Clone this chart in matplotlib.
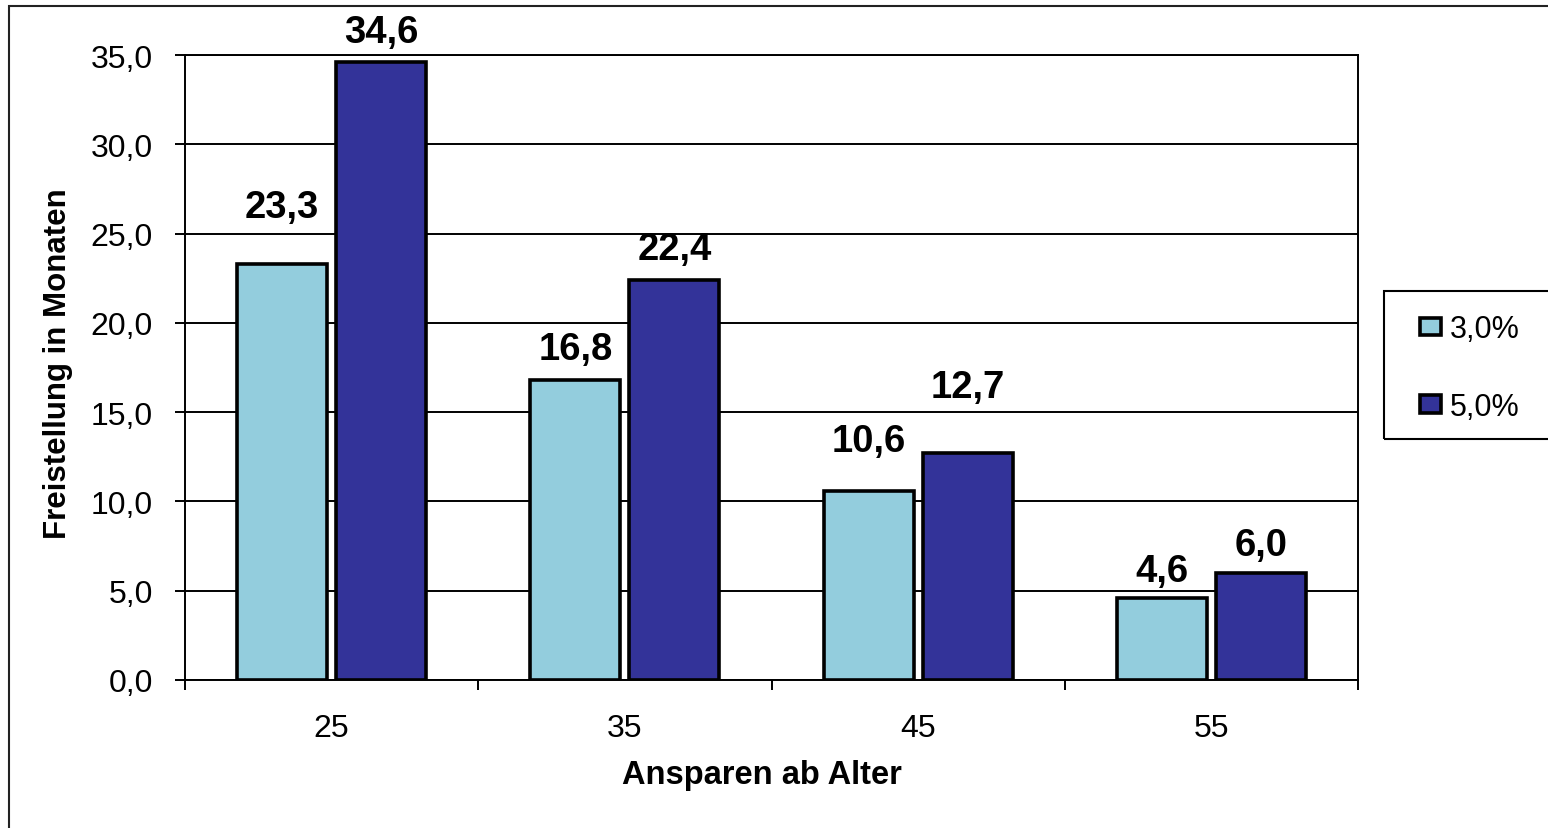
import numpy as np
import matplotlib
matplotlib.use("Agg")
import matplotlib.pyplot as plt
from matplotlib.patches import Rectangle
from matplotlib.ticker import FuncFormatter, FixedLocator

plt.rcParams['font.family'] = ['Liberation Sans', 'DejaVu Sans']

# ---- data ----
categories = ["25", "35", "45", "55"]
series_names = ["3,0%", "5,0%"]
values_3 = [23.3, 16.8, 10.6, 4.6]
values_5 = [34.6, 22.4, 12.7, 6.0]
y_ticks = [0, 5, 10, 15, 20, 25, 30, 35]
x_title = "Ansparen ab Alter"
y_title = "Freistellung in Monaten"

# ---- layout / style (not data) ----
label_offsets_3 = [57, 31, 50, 27]   # pixels above bar top
label_offsets_5 = [30, 31, 66, 28]
color_3 = "#93CDDD"
color_5 = "#333399"

W, H = 1548, 829
fig = plt.figure(figsize=(W / 100, H / 100), dpi=100)
fig.patch.set_facecolor("white")

# outer chart frame (runs off right/bottom edges)
fig.add_artist(Rectangle((9 / W, -0.05), 1.2, 1 - 7 / H + 0.05,
                         transform=fig.transFigure, fill=False,
                         edgecolor="#222222", linewidth=1.5))

ax = fig.add_axes([185 / W, 1 - 681 / H, (1358 - 185) / W, (681 - 56) / H])

x = np.arange(len(categories))
off = 0.169
bw = 0.307
b1 = ax.bar(x - off, values_3, bw, color=color_3, edgecolor="black",
            linewidth=2.6, zorder=3, label=series_names[0])
b2 = ax.bar(x + off, values_5, bw, color=color_5, edgecolor="black",
            linewidth=2.6, zorder=3, label=series_names[1])

ax.set_xlim(-0.5, len(categories) - 0.5)
ax.set_ylim(0, 35)
ax.set_yticks(y_ticks)
ax.yaxis.set_major_formatter(FuncFormatter(lambda v, p: f"{v:.1f}".replace(".", ",")))
ax.yaxis.grid(True, color="black", linewidth=1.4)
ax.set_axisbelow(True)

ax.set_xticks(x)
ax.set_xticklabels(categories)
ax.xaxis.set_minor_locator(FixedLocator(np.arange(-0.5, len(categories), 1.0)))
ax.tick_params(axis="x", which="major", length=0, pad=24, labelsize=23)
ax.tick_params(axis="x", which="minor", length=7, width=1.4, direction="out")
ax.tick_params(axis="y", which="major", length=7, width=1.4, direction="out",
               pad=16, labelsize=23)

for s in ["left", "bottom", "right", "top"]:
    ax.spines[s].set_color("black")
    ax.spines[s].set_linewidth(1.4)

for bars, vals, offs in [(b1, values_3, label_offsets_3), (b2, values_5, label_offsets_5)]:
    for rect, v, o in zip(bars, vals, offs):
        ax.annotate(f"{v:.1f}".replace(".", ","),
                    xy=(rect.get_x() + rect.get_width() / 2, v),
                    xytext=(0, o), textcoords="offset pixels",
                    ha="center", va="center", fontsize=27.5, fontweight="bold")

fig.text(762 / W, 1 - 776 / H, x_title, ha="center", va="center",
         fontsize=23.5, fontweight="bold")
fig.text(58 / W, 1 - 364 / H, y_title, ha="center", va="center",
         rotation=90, fontsize=22.5, fontweight="bold")

# legend frame (runs off the right edge)
fig.add_artist(Rectangle((1384 / W, 1 - 440 / H), 0.2, (440 - 292) / H,
                         transform=fig.transFigure, fill=False,
                         edgecolor="black", linewidth=1.5))
leg = fig.legend(handles=[b1, b2], labels=series_names, loc="center left",
                 bbox_to_anchor=(1408 / W, 1 - 369 / H), frameon=False,
                 fontsize=22, handlelength=0.68, handleheight=0.52,
                 handletextpad=0.3, labelspacing=1.55, borderaxespad=0)

fig.savefig("out.png", dpi=100)
